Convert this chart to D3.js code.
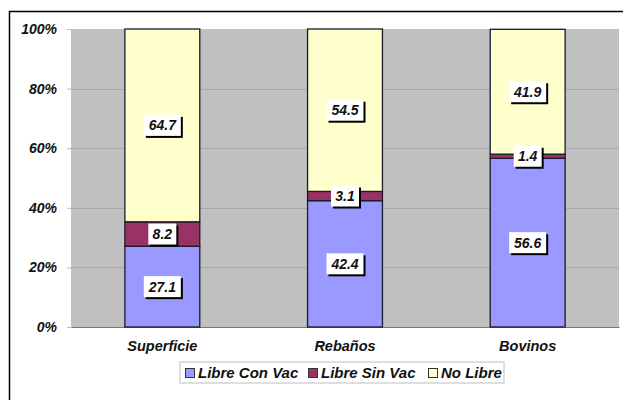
<!DOCTYPE html>
<html>
<head>
<meta charset="utf-8">
<script src="https://cdn.jsdelivr.net/npm/d3@7"></script>
<style>
  body { margin: 0; background: #fff; }
  svg text { font-family: Arial, "Liberation Sans", sans-serif; font-weight: bold; font-style: italic; }
</style>
</head>
<body>
<div id="chart"></div>
<script>
const categories = ["Superficie", "Rebaños", "Bovinos"];
const seriesNames = ["Libre Con Vac", "Libre Sin Vac", "No Libre"];
const libreConVac = [27.1, 42.4, 56.6];
const libreSinVac = [8.2, 3.1, 1.4];
const noLibre = [64.7, 54.5, 41.9];
const yTicks = [0, 20, 40, 60, 80, 100];

const colors = ["#9999ff", "#993366", "#ffffcc"];

const width = 623, height = 400;
const margin = { top: 29, right: 4, bottom: 73, left: 71 };
const innerW = width - margin.left - margin.right;
const innerH = height - margin.top - margin.bottom;

const svg = d3.select("#chart").append("svg")
  .attr("width", width).attr("height", height);

// outer frame
svg.append("rect")
  .attr("x", 9.5).attr("y", 11.5)
  .attr("width", 630).attr("height", 400)
  .attr("fill", "none").attr("stroke", "#000").attr("stroke-width", 1.5);

const g = svg.append("g").attr("transform", `translate(${margin.left},${margin.top})`);

const x = d3.scaleBand().domain(categories).range([0, innerW]).paddingInner(0.59).paddingOuter(0.295);
const y = d3.scaleLinear().domain([0, 100]).range([innerH, 0]);

g.append("rect").attr("width", innerW).attr("height", innerH).attr("fill", "#c0c0c0");

// gridlines
g.selectAll("line.grid").data(yTicks.slice(1, -1)).join("line")
  .attr("class", "grid")
  .attr("x1", 0).attr("x2", innerW)
  .attr("y1", (d) => Math.round(y(d)) + 0.5).attr("y2", (d) => Math.round(y(d)) + 0.5)
  .attr("stroke", "#a9a9a9").attr("stroke-width", 1.2);

// y axis labels
const yAxis = g.append("g").call(d3.axisLeft(y).tickValues(yTicks).tickFormat((d) => d + "%").tickSize(4).tickPadding(10));
yAxis.select(".domain").remove();
yAxis.selectAll(".tick line").attr("stroke", "#bbb");
yAxis.selectAll("text").attr("font-size", 14).attr("fill", "#111");

// x axis
const xAxis = g.append("g").attr("transform", `translate(0,${innerH})`)
  .call(d3.axisBottom(x).tickSize(0).tickPadding(14));
xAxis.select(".domain").attr("stroke", "#777");
xAxis.selectAll("text").attr("font-size", 14.5).attr("fill", "#111");

// stack
const rows = categories.map((c, i) => ({
  cat: c,
  [seriesNames[0]]: libreConVac[i],
  [seriesNames[1]]: libreSinVac[i],
  [seriesNames[2]]: noLibre[i],
}));
const stacked = d3.stack().keys(seriesNames)(rows);

const layers = g.selectAll("g.layer").data(stacked).join("g")
  .attr("class", "layer")
  .attr("fill", (d, i) => colors[i]);

layers.selectAll("rect").data((d) => d).join("rect")
  .attr("x", (d) => x(d.data.cat))
  .attr("y", (d) => y(Math.min(d[1], 100)))
  .attr("width", x.bandwidth())
  .attr("height", (d) => y(d[0]) - y(Math.min(d[1], 100)))
  .attr("stroke", "#1a1a2a").attr("stroke-width", 1.3);

// value labels
const labels = [];
stacked.forEach((layer) => {
  layer.forEach((d) => {
    labels.push({ cat: d.data.cat, v: d[1] - d[0], mid: (d[0] + Math.min(d[1], 100)) / 2 });
  });
});

const lab = g.selectAll("g.lab").data(labels).join("g")
  .attr("class", "lab")
  .attr("transform", (d) => `translate(${x(d.cat) + x.bandwidth() / 2},${y(d.mid)})`);

lab.each(function (d) {
  const s = d3.select(this);
  const txt = d.v.toFixed(1);
  const w = txt.length > 3 ? 37 : 28;
  const h = 21;
  s.append("rect").attr("x", -w / 2 + 2).attr("y", -h / 2 + 2).attr("width", w).attr("height", h).attr("fill", "#000");
  s.append("rect").attr("x", -w / 2).attr("y", -h / 2).attr("width", w).attr("height", h).attr("fill", "#fff");
  s.append("text").attr("text-anchor", "middle").attr("dy", "0.36em")
    .attr("font-size", 14).attr("fill", "#111").text(txt);
});

// legend
const leg = svg.append("g").attr("transform", "translate(180,362)");
leg.append("rect").attr("width", 324).attr("height", 21)
  .attr("fill", "#fff").attr("stroke", "#c8c8c8").attr("stroke-width", 1.2);
const legX = [5, 128, 248];
seriesNames.forEach((n, i) => {
  const it = leg.append("g").attr("transform", `translate(${legX[i]},0)`);
  it.append("rect").attr("x", 0.5).attr("y", 6.5).attr("width", 9).attr("height", 9)
    .attr("fill", colors[i]).attr("stroke", "#333").attr("stroke-width", 1);
  it.append("text").attr("x", 13).attr("y", 15.5).attr("font-size", 15).attr("fill", "#111").text(n);
});
</script>
</body>
</html>
